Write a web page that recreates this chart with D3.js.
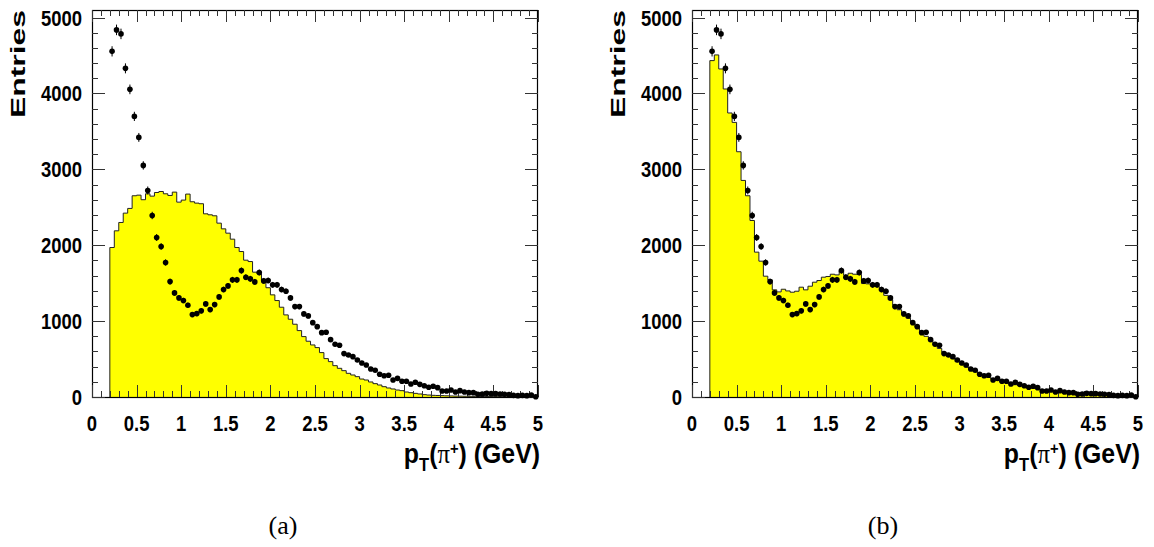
<!DOCTYPE html>
<html>
<head>
<meta charset="utf-8">
<script src="https://cdn.jsdelivr.net/npm/d3@7"></script>
<style>
  html, body { margin: 0; padding: 0; background: #fff; }
  svg { display: block; }
  .lab { font-family: "Liberation Sans", Arial, Helvetica, sans-serif; font-weight: bold; fill: #000; }
  .cap { font-family: "Liberation Serif", "DejaVu Serif", serif; fill: #000; }
</style>
</head>
<body>
<svg id="chart" width="1154" height="547"></svg>
<script>
// ---- data ----
const binStart = 0.2;     // lower edge of first bin (GeV)
const binWidth = 0.05;    // bin width (GeV)
const nBins = 96;

// measured data points (same in both panels)
const dataValues = [
  4555, 4838, 4785, 4331, 4054, 3698, 3421, 3052, 2722, 2392,
  2102, 1983, 1772, 1521, 1372, 1306, 1271, 1209, 1086, 1099,
  1135, 1227, 1152, 1218, 1319, 1416, 1464, 1544, 1544, 1666,
  1579, 1557, 1517, 1640, 1530, 1535, 1478, 1478, 1416, 1394,
  1306, 1191, 1191, 1095, 1069, 980, 927, 848, 853, 756,
  695, 681, 572, 554, 532, 488, 449, 422, 369, 352,
  299, 281, 286, 224, 246, 207, 207, 172, 194, 167,
  149, 128, 141, 123, 79, 79, 92, 66, 84, 66,
  57, 57, 35, 40, 48, 44, 44, 40, 35, 31,
  22, 18, 22, 18, 26, 4
];

// simulation histogram, panel (a)
const histA = [
  1970, 2190, 2300, 2423, 2485, 2652, 2660, 2600, 2678, 2647,
  2695, 2708, 2678, 2656, 2700, 2568, 2595, 2674, 2573, 2555,
  2547, 2414, 2401, 2388, 2291, 2216, 2159, 2080, 1970, 1917,
  1803, 1785, 1645, 1623, 1530, 1440, 1346, 1271, 1183, 1082,
  1025, 959, 875, 796, 735, 686, 651, 585, 506, 466,
  413, 378, 347, 312, 290, 268, 237, 224, 198, 176,
  158, 136, 119, 106, 92, 84, 66, 57, 48, 40,
  31, 26, 22, 20, 18, 16, 14, 12, 11, 10,
  9, 8, 7, 6, 6, 5, 5, 4, 4, 3,
  3, 3, 2, 2, 2, 2
];

// simulation histogram, panel (b)
const histB = [
  4433, 4508, 4323, 4059, 3743, 3619, 3232, 2854, 2652, 2326,
  1909, 1790, 1592, 1544, 1412, 1385, 1420, 1398, 1381, 1394,
  1447, 1412, 1460, 1513, 1535, 1579, 1588, 1618, 1609, 1662,
  1605, 1631, 1618, 1614, 1495, 1491, 1464, 1455, 1400, 1340,
  1280, 1210, 1150, 1090, 1040, 975, 920, 860, 800, 750,
  690, 640, 590, 548, 505, 465, 430, 395, 362, 335,
  305, 282, 258, 238, 218, 200, 190, 175, 162, 150,
  138, 127, 117, 108, 99, 91, 84, 77, 71, 65,
  60, 55, 50, 46, 42, 38, 35, 32, 29, 26,
  24, 22, 20, 18, 16, 14
];

const xTickLabels = ["0", "0.5", "1", "1.5", "2", "2.5", "3", "3.5", "4", "4.5", "5"];
const yTickLabels = ["0", "1000", "2000", "3000", "4000", "5000"];
const captions = ["(a)", "(b)"];
const yLabel = "Entries";

// ---- layout ----
const svg = d3.select("#chart");
const panels = [
  { hist: histA, left: 92, cap: captions[0] },
  { hist: histB, left: 692, cap: captions[1] }
];
const W = 446, plotTop = 10, plotBottom = 397;
const squeeze = 0.84;   // narrow-glyph look of the original labels

const binLows = d3.range(nBins).map(i => +(binStart + i * binWidth).toFixed(4));

panels.forEach(p => {
  const g = svg.append("g");
  const x = d3.scaleLinear().domain([0, 5]).range([p.left, p.left + W]);
  const y = d3.scaleLinear().domain([0, 5100]).range([plotBottom, plotTop]);

  // histogram fill
  const pts = binLows.map((lo, i) => ({ x: lo, y: p.hist[i] }));
  pts.push({ x: binLows[nBins - 1] + binWidth, y: p.hist[nBins - 1] });
  const area = d3.area().curve(d3.curveStepAfter)
    .x(d => x(d.x)).y0(y(0)).y1(d => y(d.y));
  g.append("path").datum(pts).attr("d", area).attr("fill", "#ffff00");

  // histogram outline
  const stepPts = [];
  stepPts.push([x(binLows[0]), y(0)]);
  binLows.forEach((lo, i) => {
    stepPts.push([x(lo), y(p.hist[i])]);
    stepPts.push([x(lo + binWidth), y(p.hist[i])]);
  });
  g.append("path").attr("d", d3.line()(stepPts))
    .attr("fill", "none").attr("stroke", "#222").attr("stroke-width", 1);

  // frame
  g.append("rect").attr("x", p.left + 0.5).attr("y", plotTop + 0.5)
    .attr("width", W - 1).attr("height", plotBottom - plotTop)
    .attr("fill", "none").attr("stroke", "#000").attr("stroke-width", 1.2);

  // ticks
  const tc = "#333";
  d3.range(0, 51).forEach(k => {
    const v = k / 10;
    const major = k % 5 === 0;
    const len = major ? 12 : 6;
    const xx = Math.round(x(v)) + 0.5;
    g.append("line").attr("x1", xx).attr("x2", xx).attr("y1", plotBottom).attr("y2", plotBottom - len).attr("stroke", tc);
    g.append("line").attr("x1", xx).attr("x2", xx).attr("y1", plotTop).attr("y2", plotTop + len).attr("stroke", tc);
  });
  d3.range(0, 26).forEach(k => {
    const v = k * 200;
    const major = k % 5 === 0;
    const len = major ? 13 : 6;
    const yy = Math.round(y(v)) + 0.5;
    g.append("line").attr("x1", p.left).attr("x2", p.left + len).attr("y1", yy).attr("y2", yy).attr("stroke", tc);
    g.append("line").attr("x1", p.left + W).attr("x2", p.left + W - len).attr("y1", yy).attr("y2", yy).attr("stroke", tc);
  });

  // data points with error bars
  const dp = g.append("g");
  dataValues.forEach((v, i) => {
    const cx = x(binLows[i] + binWidth / 2);
    const e = Math.sqrt(v);
    dp.append("line").attr("x1", cx).attr("x2", cx)
      .attr("y1", y(v - e)).attr("y2", y(v + e)).attr("stroke", "#000").attr("stroke-width", 1);
    dp.append("circle").attr("cx", cx).attr("cy", y(v)).attr("r", 2.8).attr("fill", "#000");
  });

  // tick labels
  xTickLabels.forEach(t => {
    g.append("text").attr("class", "lab")
      .attr("transform", `translate(${x(+t)},431) scale(${squeeze},1)`)
      .attr("text-anchor", "middle").attr("font-size", 22).text(t);
  });
  yTickLabels.forEach(t => {
    g.append("text").attr("class", "lab")
      .attr("transform", `translate(${p.left - 10},${y(+t)}) scale(${squeeze},1)`)
      .attr("dy", "0.36em").attr("text-anchor", "end").attr("font-size", 22).text(t);
  });

  // axis titles
  g.append("text").attr("class", "lab")
    .attr("transform", `translate(${p.left - 67},${plotTop}) rotate(-90)`)
    .attr("text-anchor", "end").attr("font-size", 20)
    .attr("textLength", 108).attr("lengthAdjust", "spacingAndGlyphs")
    .text(yLabel);

  const xt = g.append("text").attr("class", "lab")
    .attr("transform", `translate(${p.left + W + 2},463) scale(0.92,1)`)
    .attr("text-anchor", "end").attr("font-size", 27);
  xt.append("tspan").text("p");
  xt.append("tspan").attr("font-size", 18).attr("dy", 8).text("T");
  xt.append("tspan").attr("dy", -8).text("(");
  xt.append("tspan").attr("font-weight", "normal").style("font-family", "'Liberation Serif', serif").text("π");
  xt.append("tspan").attr("font-size", 16).attr("dy", -9).text("+");
  xt.append("tspan").attr("dy", 9).text(") (GeV)");

  // caption
  g.append("text").attr("class", "cap").attr("x", p.left + 191).attr("y", 534)
    .attr("text-anchor", "middle").attr("font-size", 26).text(p.cap);
});
</script>
</body>
</html>
